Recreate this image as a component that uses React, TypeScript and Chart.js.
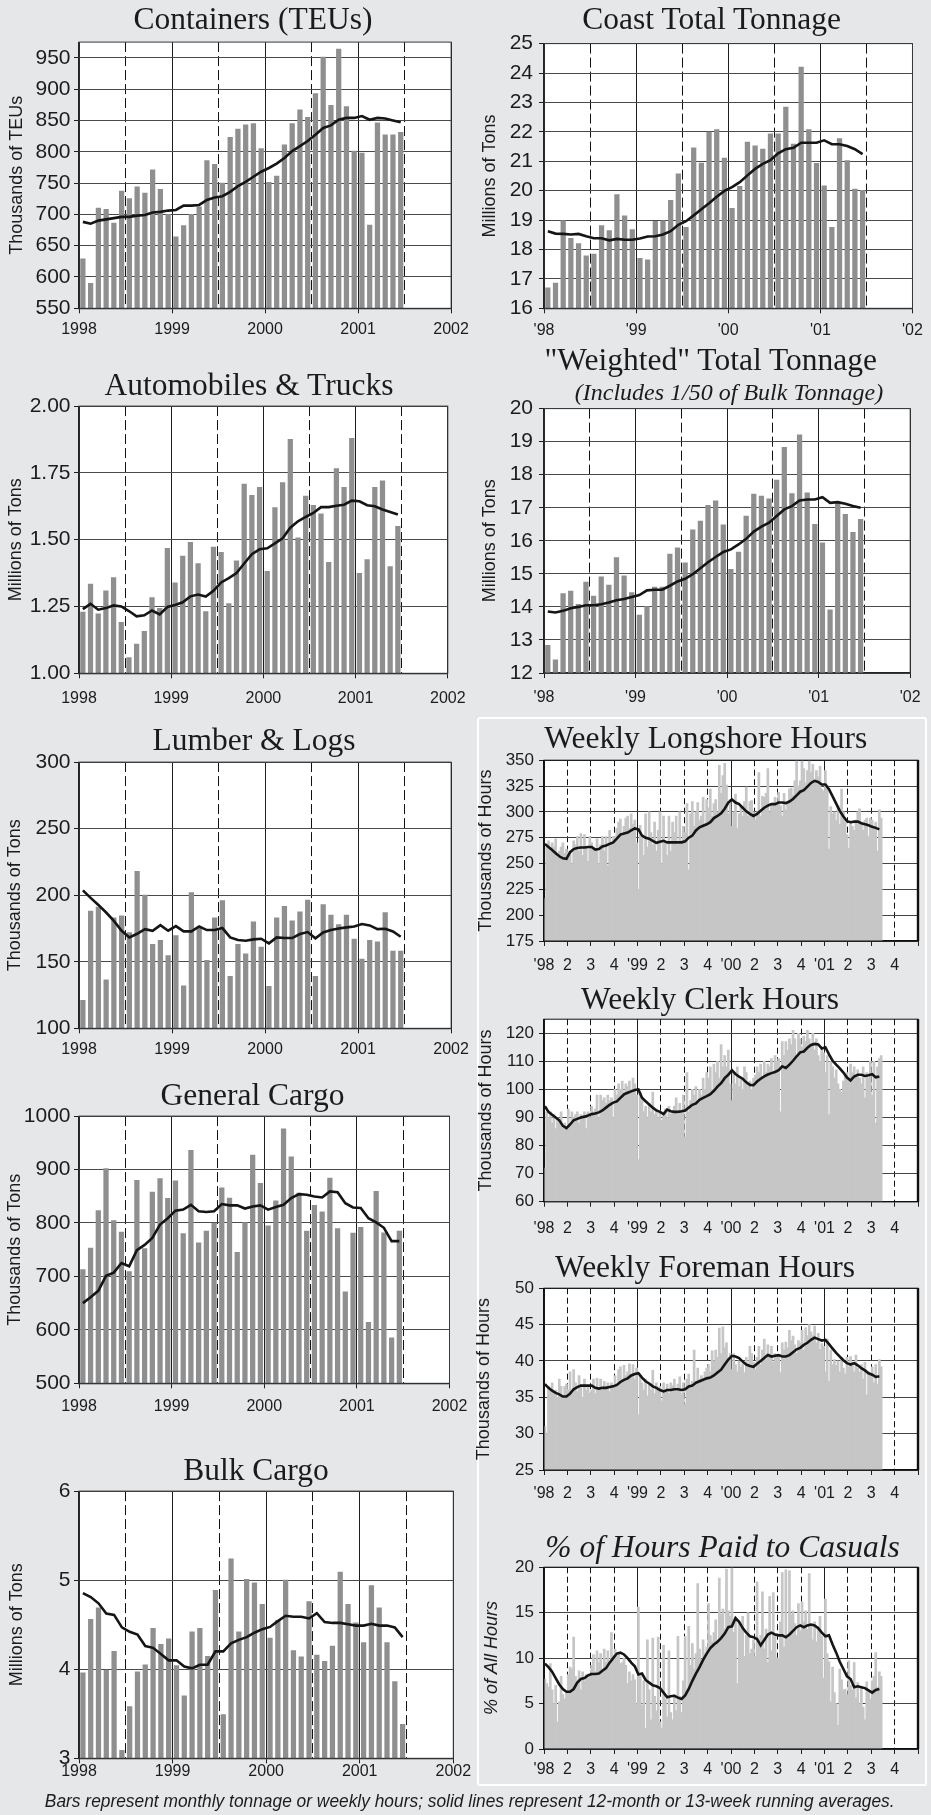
import React, { useEffect, useRef } from "react";
import { Chart, registerables } from "chart.js";

Chart.register(...registerables);
Chart.defaults.font.family = "'Liberation Sans', Arial, sans-serif";

// ---------------- monthly data (Jan 1998 - Jun 2001) ----------------
const containersBars = [629, 590, 710, 708, 686, 737, 725, 744, 734, 771, 740, 700, 664, 682, 700, 712, 786, 780, 750, 823, 836, 843, 845, 805, 751, 761, 811, 845, 867, 855, 893, 951, 874, 964, 872, 801, 798, 683, 846, 827, 827, 831];
const containersLine = [688, 685, 690, 692, 694, 696, 696, 698, 699, 703, 704, 706, 707, 714, 714, 715, 723, 727, 729, 736, 745, 752, 760, 768, 774, 781, 790, 801, 809, 817, 827, 838, 842, 851, 854, 854, 857, 851, 854, 853, 850, 847];

const coastBars = [16.7, 16.86, 18.98, 18.38, 18.2, 17.78, 17.84, 18.81, 18.64, 19.87, 19.14, 18.68, 17.7, 17.65, 18.96, 18.97, 19.67, 20.57, 18.75, 21.46, 20.94, 21.99, 22.08, 21.11, 19.4, 20.15, 21.65, 21.52, 21.41, 21.93, 21.93, 22.84, 21.58, 24.2, 22.08, 20.93, 20.16, 18.75, 21.77, 21.02, 20.05, 20.01];
const coastLine = [18.62, 18.54, 18.53, 18.51, 18.53, 18.45, 18.38, 18.38, 18.31, 18.36, 18.33, 18.33, 18.37, 18.44, 18.45, 18.51, 18.62, 18.84, 18.96, 19.16, 19.37, 19.57, 19.79, 19.99, 20.12, 20.29, 20.52, 20.74, 20.91, 21.04, 21.27, 21.41, 21.46, 21.63, 21.63, 21.63, 21.71, 21.58, 21.58, 21.52, 21.41, 21.24];

const autosBars = [1.229, 1.334, 1.223, 1.309, 1.358, 1.191, 1.059, 1.109, 1.157, 1.283, 1.243, 1.468, 1.339, 1.439, 1.49, 1.411, 1.231, 1.472, 1.453, 1.261, 1.421, 1.708, 1.666, 1.696, 1.382, 1.62, 1.714, 1.876, 1.507, 1.663, 1.629, 1.597, 1.415, 1.766, 1.696, 1.879, 1.374, 1.426, 1.696, 1.72, 1.399, 1.55];
const autosLine = [1.24, 1.26, 1.238, 1.244, 1.254, 1.25, 1.233, 1.213, 1.217, 1.235, 1.22, 1.248, 1.256, 1.266, 1.288, 1.295, 1.287, 1.309, 1.34, 1.356, 1.375, 1.411, 1.446, 1.464, 1.468, 1.486, 1.505, 1.545, 1.569, 1.585, 1.6, 1.622, 1.622, 1.627, 1.631, 1.646, 1.644, 1.629, 1.625, 1.613, 1.604, 1.594];

const weightedBars = [12.84, 12.4, 14.4, 14.48, 14.08, 14.75, 14.33, 14.91, 14.66, 15.49, 14.94, 14.43, 13.75, 14.01, 14.6, 14.6, 15.6, 15.79, 15.33, 16.33, 16.6, 17.07, 17.21, 16.48, 15.14, 15.66, 16.75, 17.41, 17.35, 17.27, 17.84, 18.83, 17.43, 19.21, 17.45, 16.5, 15.94, 13.91, 17.15, 16.8, 16.26, 16.65];
const weightedLine = [13.86, 13.83, 13.88, 13.96, 14.0, 14.05, 14.05, 14.08, 14.13, 14.2, 14.24, 14.3, 14.36, 14.5, 14.52, 14.52, 14.64, 14.77, 14.85, 14.99, 15.17, 15.35, 15.51, 15.66, 15.74, 15.89, 16.06, 16.28, 16.43, 16.55, 16.75, 16.95, 17.05, 17.22, 17.25, 17.25, 17.32, 17.15, 17.17, 17.12, 17.05, 17.0];

const lumberBars = [121, 188, 191, 136.5, 183, 184.5, 172, 218, 200, 163, 166, 154.7, 169.6, 132, 202, 176, 151, 183, 196, 139, 163, 156, 180, 161, 131.6, 183, 191.7, 180.7, 187.5, 196.4, 139, 193, 185, 178, 185, 167, 152, 166, 165, 187, 158, 158];
const lumberLine = [203.6, 198, 192.7, 187, 180.7, 173.3, 168.3, 171, 174.5, 173.3, 177.5, 173.3, 176.8, 172.8, 172.8, 176.5, 173.8, 173.8, 175.3, 168.3, 166.3, 165.8, 166.8, 167.3, 163.8, 168.3, 167.8, 167.8, 170.8, 172.3, 167.6, 172, 173.8, 175, 175.8, 176.5, 178.3, 177.3, 174.5, 174.8, 172.8, 168.8];

const generalBars = [713, 753, 823, 901.6, 804.5, 783, 709, 880, 752, 858, 883, 846, 879, 780, 936, 763, 785, 800, 866, 846.5, 745, 800.7, 927, 874, 794.6, 841.6, 976, 924, 856, 784.7, 833, 821, 884, 789.6, 671, 781, 792, 614, 859, 781.6, 585, 785];
const generalLine = [650, 661, 673, 701, 707, 725, 719, 749, 759, 772, 797, 809, 823, 825, 834, 822, 820.5, 822, 835.4, 833, 833, 827, 831, 833, 825, 830, 834, 846.5, 854, 852.7, 849.6, 847.8, 859, 857.7, 837, 829, 828, 809, 801, 791, 766, 766];

const bulkBars = [3.96, 4.56, 4.69, 3.99, 4.2, 3.09, 3.58, 3.97, 4.05, 4.46, 4.28, 4.34, 4.04, 3.7, 4.42, 4.46, 4.145, 4.885, 3.49, 5.24, 4.42, 5.01, 4.97, 4.73, 4.35, 4.55, 5.0, 4.21, 4.14, 4.76, 4.16, 4.09, 4.26, 5.09, 4.73, 4.52, 4.3, 4.94, 4.69, 4.3, 3.86, 3.38];
const bulkLine = [4.855, 4.81, 4.74, 4.625, 4.61, 4.47, 4.42, 4.39, 4.26, 4.24, 4.17, 4.1, 4.1, 4.03, 4.01, 4.05, 4.05, 4.2, 4.2, 4.29, 4.33, 4.36, 4.41, 4.45, 4.475, 4.54, 4.6, 4.59, 4.59, 4.57, 4.63, 4.53, 4.52, 4.52, 4.505, 4.49, 4.49, 4.51, 4.49, 4.49, 4.47, 4.36];

// ---------------- weekly data (188 weeks from Jan 1998) ----------------
const longshoreBars = [
  216, 268, 272, 262, 270, 266, 274, 256, 262, 266, 270, 260, 264,
  255, 262, 250, 272, 268, 276, 262, 279, 258, 278, 266, 252, 276,
  270, 266, 262, 274, 250, 268, 276, 262, 276, 248, 282, 270, 276,
  276, 284, 290, 293, 278, 286, 294, 296, 284, 298, 288, 292, 270,
  225, 287, 276, 258, 298, 266, 300, 280, 268, 290, 262, 282, 300,
  250, 296, 270, 258, 296, 262, 290, 280, 296, 268, 300, 272, 286,
  280, 308, 244, 298, 310, 286, 300, 309, 292, 296, 314, 288, 312,
  304, 322, 296, 308, 312, 300, 345, 318, 335, 347, 326, 298, 312,
  286, 300, 317, 284, 298, 305, 296, 310, 324, 296, 310, 311, 300,
  292, 300, 338, 296, 315, 314, 318, 342, 300, 308, 306, 314, 308,
  319, 306, 296, 318, 302, 310, 322, 323, 316, 330, 350, 325, 330,
  350, 342, 328, 340, 352, 338, 346, 330, 340, 334, 344, 322, 320,
  340, 326, 264, 305, 298, 300, 292, 306, 288, 322, 300, 290, 278,
  265, 290, 286, 282, 292, 300, 303, 290, 282, 292, 294, 276, 294,
  292, 286, 290, 262, 302, 294,
];
const longshoreLine = [269, 266, 263, 260, 257, 255, 254.5, 261, 264, 265, 265.5, 265.5, 266, 266, 263.5, 264, 266.5, 267.5, 269, 270.5, 274, 278, 279, 280, 282, 284, 283, 277, 275, 274, 272, 270, 271, 272, 270.5, 270.5, 270.5, 270.5, 270.5, 271.5, 275, 277, 282, 285, 286.5, 288, 290, 294, 296, 298.5, 303, 309, 312, 309, 307.5, 304, 300.5, 298, 296, 298, 301, 304, 306, 307.5, 307.5, 309, 309, 308.5, 310, 312.5, 316, 319.5, 321, 324.5, 328, 330, 329, 326.5, 326.5, 322, 315, 308, 301, 295.5, 291, 290, 290.5, 290.5, 289, 288, 287, 285.5, 284.5, 283];

const clerkBars = [
  72, 92, 90, 92, 88, 91, 86, 90, 88, 92, 86, 88, 86,
  93, 88, 92, 90, 91, 92, 88, 91, 90, 92, 86, 92, 90,
  94, 92, 93, 98, 90, 98, 96, 97, 95, 98, 96, 97, 90,
  100, 98, 102, 100, 103, 99, 102, 101, 103, 100, 104, 102, 98,
  75, 99, 96, 92, 94, 90, 95, 92, 99, 91, 93, 90, 92,
  89, 92, 93, 90, 94, 91, 92, 94, 97, 91, 95, 92, 98,
  83, 106, 92, 96, 100, 98, 101, 95, 100, 98, 104, 100, 106,
  104, 108, 100, 109, 106, 110, 104, 116, 108, 112, 108, 114, 102,
  96, 106, 102, 108, 101, 104, 100, 108, 106, 101, 103, 100, 104,
  105, 108, 106, 109, 104, 110, 106, 109, 108, 111, 106, 112, 110,
  111, 92, 117, 112, 117, 114, 118, 116, 121, 118, 112, 120, 118,
  115, 119, 117, 121, 118, 116, 120, 114, 118, 112, 110, 115, 113,
  106, 112, 91, 110, 108, 104, 107, 102, 100, 99, 103, 105, 106,
  104, 109, 106, 108, 105, 107, 104, 102, 108, 97, 106, 104, 110,
  98, 110, 88, 108, 111, 112,
];
const clerkLine = [94, 92, 91, 90, 89, 87, 86.2, 87.5, 89, 89.5, 90, 90.3, 90.7, 91.2, 91.4, 91.8, 92.5, 93.5, 94.5, 95.3, 95.7, 97, 98.2, 98.8, 99.3, 99.8, 100, 97, 95.8, 94.6, 93.5, 92.5, 92, 91.2, 92.8, 92.2, 92, 92, 92.2, 92.5, 93.5, 94.5, 95, 96.3, 97, 97.6, 98.3, 99.5, 101, 102.2, 104, 105.2, 106.8, 105.5, 104.5, 103.8, 102.5, 101.6, 101.5, 102.8, 103.8, 104.6, 105.3, 105.8, 106.2, 106.8, 108.2, 107.6, 108.8, 110.2, 111.8, 113.2, 113.5, 114.8, 115.8, 116.2, 116, 114.6, 115, 112.5, 110.2, 108.8, 107.5, 106, 104.2, 103.2, 104.6, 105.2, 105.2, 104.8, 105, 105.4, 104.3, 104.6];

const foremanBars = [
  31, 30, 36.5, 36, 37, 35.5, 36, 35, 37.5, 36.5, 35, 36.5, 36.8,
  36, 38.5, 35.5, 38.8, 37, 35.8, 38, 36.5, 35, 37.5, 36, 36.5, 35.5,
  36, 37.5, 35.5, 37.6, 36.2, 37.5, 36, 37.2, 36.5, 37, 35.8, 37, 36.5,
  38, 36.5, 38.8, 39.2, 37.5, 39.4, 38, 38.5, 39.6, 38, 39.5, 37.5, 39,
  32.6, 38, 37, 36, 37.5, 35.2, 36.8, 36, 38.7, 35.5, 37, 36.2, 36.5,
  34.5, 37, 36, 36.8, 35.5, 37, 36.6, 37.5, 35.8, 36.8, 37.8, 35.5, 37,
  34, 37.5, 38.2, 36.5, 37.2, 41.5, 37, 39, 37.5, 38, 37.2, 38.5, 39,
  39.5, 38.5, 41.4, 40, 41.5, 40.5, 44.5, 41, 44.7, 41.8, 42.5, 40, 41,
  38.8, 41, 39.5, 38.5, 40, 39.2, 39.6, 38.4, 40.5, 39.5, 42, 41, 39.8,
  38.8, 40.5, 42, 39.5, 41.5, 43, 40.2, 42.2, 41, 42, 39.8, 41, 40.5,
  40.8, 38.4, 42.5, 41.5, 42.6, 41.8, 44.2, 42.8, 43.4, 42.2, 41, 42.8, 42.5,
  44.2, 41.5, 44.6, 43.5, 45, 44, 43.5, 44.8, 42.5, 43.8, 41.6, 42.4, 42,
  38.5, 43, 37.2, 41.5, 39.5, 40.2, 39.4, 40, 38.5, 40.5, 39, 38.2, 40.5,
  39.2, 40.6, 39.8, 38.5, 40.8, 39, 38.5, 39.5, 37.5, 39.8, 35.3, 38.5, 38,
  39.2, 37, 39.5, 36.8, 40.2, 39.2,
];
const foremanLine = [36.8, 36.3, 35.9, 35.6, 35.4, 35.1, 35.1, 35.5, 36.1, 36.4, 36.6, 36.6, 36.6, 36.6, 36.3, 36.2, 36.3, 36.3, 36.4, 36.5, 36.7, 37.1, 37.4, 37.6, 38, 38.2, 38.3, 37.7, 37.2, 36.9, 36.5, 36.3, 36, 35.8, 36, 36, 36.1, 36.1, 36, 36.1, 36.5, 36.6, 37, 37.2, 37.4, 37.6, 37.7, 38, 38.4, 38.8, 39.5, 40.2, 40.7, 40.6, 40.4, 39.9, 39.5, 39.3, 39.2, 39.6, 40, 40.4, 40.8, 40.6, 40.7, 40.8, 40.6, 40.6, 40.8, 41.2, 41.6, 41.8, 42.2, 42.5, 42.9, 43.2, 43, 42.8, 42.9, 42.3, 41.7, 41.1, 40.6, 40.1, 39.7, 39.5, 39.7, 39.4, 39, 38.7, 38.3, 38.1, 37.8, 37.9];

const casualsBars = [
  7.7, 7.2, 6.8, 9.4, 6.5, 5, 7, 3, 5.2, 8, 6, 5.5, 6.2,
  8.2, 9, 8.8, 12.3, 8, 7.2, 8.6, 6.5, 8.5, 7.5, 8.2, 7.8, 8.2,
  9.2, 10.4, 8.5, 10.8, 9.5, 10.5, 8.8, 11, 9.5, 10.8, 9.5, 12.8, 10.3,
  11, 10.2, 10.5, 9.4, 9.5, 10, 9.2, 7.2, 8.5, 7.5, 8.2, 7.6, 5,
  15.6, 8, 4.8, 7.5, 2.3, 12, 6.5, 3.2, 12.2, 5.8, 4.2, 12.3, 3,
  2.3, 11.4, 5.5, 3.5, 10.8, 4, 3.2, 6, 4.2, 12.4, 5.8, 4, 7.5,
  12.4, 6.5, 13.5, 9.2, 11.6, 8.8, 10.5, 18.2, 11, 9.8, 12, 10.5, 11.2,
  16, 12.5, 11.8, 12.8, 14.2, 11.8, 18.8, 14.8, 15.4, 13.2, 19.8, 15.2, 14.6,
  20, 12.8, 14.5, 7.2, 14, 13.2, 14.6, 10.2, 12.5, 15, 10.5, 11, 12,
  10.2, 18.4, 11.5, 12.5, 17.3, 11, 13.2, 9.5, 16.8, 10.8, 17.2, 12.5, 10,
  10, 14, 19.4, 11.2, 19.7, 12.2, 19.6, 14.8, 15.2, 13.8, 12.5, 16, 13,
  16.2, 14, 15.2, 13.2, 19.3, 13.5, 12, 14, 11.8, 13.5, 14.6, 12.4, 7.8,
  16.5, 10.5, 9.6, 5.2, 9, 6.2, 5, 2.6, 8.8, 7.6, 6.5, 6.6, 6,
  9.7, 7, 6.5, 9.5, 5.6, 7.3, 5, 6.8, 4.6, 3.2, 7.4, 6.5, 5.5,
  7.5, 8, 10.6, 6.8, 8.5, 8,
];
const casualsLine = [9.4, 9, 8.5, 7.8, 7.1, 6.6, 6.3, 6.3, 6.6, 7.3, 7.7, 7.8, 8.1, 8.25, 8.25, 8.3, 8.6, 8.9, 9.5, 10, 10.5, 10.6, 10.4, 10, 9.5, 9.1, 8.2, 8.3, 7.6, 7.3, 7, 6.9, 6.7, 6.2, 5.7, 5.8, 5.85, 5.65, 5.5, 5.9, 6.6, 7.5, 8.3, 9, 9.8, 10.5, 11.1, 11.5, 11.8, 12.2, 12.7, 13.4, 13.5, 14.4, 14, 13.3, 12.8, 12.4, 12.3, 12.1, 11.4, 12, 12.6, 12.8, 12.6, 12.5, 12.5, 12.3, 12.6, 13, 13.4, 13.6, 13.4, 13.6, 13.7, 13.6, 13.3, 12.8, 12.4, 12.5, 11.5, 10.6, 9.6, 8.8, 8, 7.7, 6.8, 6.9, 6.8, 6.7, 6.45, 6.2, 6.5, 6.6];

// ---------------- tick labels / tick values ----------------
const YEAR_LABELS = ["1998", "1999", "2000", "2001", "2002"];
const SHORT_YEAR_LABELS = ["'98", "'99", "'00", "'01", "'02"];
const QUARTER_LABELS = ["'98", "2", "3", "4", "'99", "2", "3", "4", "'00", "2", "3", "4", "'01", "2", "3", "4", ""];

const MONTH_YEAR_TICKS = [0, 12, 24, 36, 48];
const MONTH_MID_TICKS = [6, 18, 30, 42];
const QUARTER_TICKS = [0, 1, 2, 3, 4, 5, 6, 7, 8, 9, 10, 11, 12, 13, 14, 15, 16];
const QUARTER_YEAR_TICKS = [0, 4, 8, 12, 16];
const QUARTER_MID_TICKS = [1, 2, 3, 5, 6, 7, 9, 10, 11, 13, 14, 15];

const CONTAINERS_TICKS = [550, 600, 650, 700, 750, 800, 850, 900, 950];
const COAST_TICKS = [16, 17, 18, 19, 20, 21, 22, 23, 24, 25];
const AUTOS_TICKS = [1, 1.25, 1.5, 1.75, 2];
const WEIGHTED_TICKS = [12, 13, 14, 15, 16, 17, 18, 19, 20];
const LUMBER_TICKS = [100, 150, 200, 250, 300];
const GENERAL_TICKS = [500, 600, 700, 800, 900, 1000];
const BULK_TICKS = [3, 4, 5, 6];
const LONGSHORE_TICKS = [175, 200, 225, 250, 275, 300, 325, 350];
const CLERK_TICKS = [60, 70, 80, 90, 100, 110, 120];
const FOREMAN_TICKS = [25, 30, 35, 40, 45, 50];
const CASUALS_TICKS = [0, 5, 10, 15, 20];

// ---------------- layout ----------------
const COLS: any = {
  left: { canvasLeft: 0, canvasRight: 476, plotLeft: 79, plotRight: 453.3, yFont: 21, yPad: 3.5 },
  right: { canvasLeft: 477, canvasRight: 931, plotLeft: 544, plotRight: 918, yFont: 21, yPad: 6 },
  weekly: { canvasLeft: 472, canvasRight: 931, plotLeft: 544, plotRight: 918, yFont: 17, yPad: 5 },
};
const PAD_TOP = 14;
const X_AXIS_H = 40;
const TITLE_SIZE = 31.5;

const PANELS: any[] = [
  { id: "containers", col: "left", title: "Containers (TEUs)", titleX: 253, titleY: 19, plotTop: 40, plotBottom: 308.3, yMin: 550, yMax: 975, yTicks: CONTAINERS_TICKS, yDigits: 0, yTitle: "Thousands of TEUs", yTitleX: 16.7, xLabels: YEAR_LABELS, xLabelOffset: 21.7, bars: containersBars, line: containersLine },
  { id: "coast", col: "right", title: "Coast Total Tonnage", titleX: 711.7, titleY: 19, plotTop: 39.3, plotBottom: 308.3, yMin: 16, yMax: 25, yTicks: COAST_TICKS, yDigits: 0, yTitle: "Millions of Tons", yTitleX: 490, xLabels: SHORT_YEAR_LABELS, xLabelOffset: 22.7, bars: coastBars, line: coastLine },
  { id: "autos", col: "left", title: "Automobiles & Trucks", titleX: 249, titleY: 385, plotTop: 404, plotBottom: 673.3, yMin: 1, yMax: 2, yTicks: AUTOS_TICKS, yDigits: 2, yTitle: "Millions of Tons", yTitleX: 16, xLabels: YEAR_LABELS, xLabelOffset: 25, bars: autosBars, line: autosLine },
  { id: "weighted", col: "right", title: "\"Weighted\" Total Tonnage", titleX: 710.7, titleY: 359.7, subtitle: "(Includes 1/50 of Bulk Tonnage)", subX: 729, subY: 392.3, plotTop: 404, plotBottom: 673, yMin: 12, yMax: 20, yTicks: WEIGHTED_TICKS, yDigits: 0, yTitle: "Millions of Tons", yTitleX: 490, xLabels: SHORT_YEAR_LABELS, xLabelOffset: 25, bars: weightedBars, line: weightedLine },
  { id: "lumber", col: "left", title: "Lumber & Logs", titleX: 254, titleY: 739.7, plotTop: 760, plotBottom: 1028.3, yMin: 100, yMax: 300, yTicks: LUMBER_TICKS, yDigits: 0, yTitle: "Thousands of Tons", yTitleX: 15, xLabels: YEAR_LABELS, xLabelOffset: 21.7, bars: lumberBars, line: lumberLine },
  { id: "general", col: "left", title: "General Cargo", titleX: 252.5, titleY: 1094.5, plotTop: 1114, plotBottom: 1383.3, yMin: 500, yMax: 1000, yTicks: GENERAL_TICKS, yDigits: 0, yTitle: "Thousands of Tons", yTitleX: 15, xLabels: YEAR_LABELS, xLabelOffset: 23.3, bars: generalBars, line: generalLine },
  { id: "bulk", col: "left", title: "Bulk Cargo", titleX: 256, titleY: 1469.7, plotTop: 1489.3, plotBottom: 1758.3, yMin: 3, yMax: 6, yTicks: BULK_TICKS, yDigits: 0, yTitle: "Millions of Tons", yTitleX: 17.3, xLabels: YEAR_LABELS, xLabelOffset: 13.4, bars: bulkBars, line: bulkLine },
  { id: "longshore", col: "weekly", title: "Weekly Longshore Hours", titleX: 705.8, titleY: 738.3, plotTop: 759.3, plotBottom: 941, yMin: 175, yMax: 350, yTicks: LONGSHORE_TICKS, yDigits: 0, yTitle: "Thousands of Hours", yTitleX: 485.7, xLabels: QUARTER_LABELS, xLabelOffset: 24.7, bars: longshoreBars, line: longshoreLine },
  { id: "clerk", col: "weekly", title: "Weekly Clerk Hours", titleX: 710, titleY: 999.2, plotTop: 1018.3, plotBottom: 1201.7, yMin: 60, yMax: 125, yTicks: CLERK_TICKS, yDigits: 0, yTitle: "Thousands of Hours", yTitleX: 485.7, xLabels: QUARTER_LABELS, xLabelOffset: 27.3, bars: clerkBars, line: clerkLine },
  { id: "foreman", col: "weekly", title: "Weekly Foreman Hours", titleX: 705, titleY: 1266.7, plotTop: 1287.3, plotBottom: 1470, yMin: 25, yMax: 50, yTicks: FOREMAN_TICKS, yDigits: 0, yTitle: "Thousands of Hours", yTitleX: 484.3, xLabels: QUARTER_LABELS, xLabelOffset: 24, bars: foremanBars, line: foremanLine },
  { id: "casuals", col: "weekly", title: "% of Hours Paid to Casuals", titleItalic: true, titleX: 722.5, titleY: 1546.7, plotTop: 1566, plotBottom: 1749, yMin: 0, yMax: 20, yTicks: CASUALS_TICKS, yDigits: 0, yTitle: "% of All Hours", yTitleItalic: true, yTitleX: 491.7, xLabels: QUARTER_LABELS, xLabelOffset: 21, bars: casualsBars, line: casualsLine },
];

const plotBgPlugin = {
  id: "plotBg",
  beforeDraw(chart: any) {
    const { ctx, chartArea: a } = chart;
    ctx.save();
    ctx.fillStyle = "#ffffff";
    ctx.fillRect(a.left, a.top, a.right - a.left, a.bottom - a.top);
    ctx.restore();
  },
};

const plotFramePlugin = {
  id: "plotFrame",
  afterDraw(chart: any, _args: any, opts: any) {
    const { ctx, chartArea: a } = chart;
    ctx.save();
    ctx.strokeStyle = opts.color;
    ctx.lineWidth = opts.width;
    ctx.strokeRect(a.left, a.top, a.right - a.left, a.bottom - a.top);
    if (opts.rightWidth) {
      ctx.lineWidth = opts.rightWidth;
      ctx.beginPath();
      ctx.moveTo(a.right, a.top);
      ctx.lineTo(a.right, a.bottom);
      ctx.stroke();
    }
    ctx.restore();
  },
};

function geometry(spec: any) {
  const col = COLS[spec.col];
  const top = Math.round(spec.plotTop - PAD_TOP);
  const padTop = spec.plotTop - top;
  const height = Math.ceil(spec.plotBottom - top + X_AXIS_H);
  const xAxisH = height - (spec.plotBottom - top);
  const width = col.canvasRight - col.canvasLeft;
  return { col, top, padTop, height, xAxisH, width, left: col.canvasLeft };
}

function buildConfig(spec: any) {
  const g = geometry(spec);
  const col = g.col;
  const weekly = spec.col === "weekly";
  const xMax = weekly ? 16 : 48;
  const barX = (i: number) => (weekly ? (i + 0.5) / 13 : i + 0.5);
  const lineX = (i: number) => (weekly ? (i * 2 + 0.5) / 13 : i + 0.5);
  const xTicks = weekly ? QUARTER_TICKS : MONTH_YEAR_TICKS;
  const xSolid = weekly ? QUARTER_YEAR_TICKS : MONTH_YEAR_TICKS;
  const xDash = weekly ? QUARTER_MID_TICKS : MONTH_MID_TICKS;
  const plotW = col.plotRight - col.plotLeft;
  const barThickness = weekly ? plotW / (16 * 13) + 0.25 : 4.6;

  return {
    type: "bar",
    data: {
      datasets: [
        {
          type: "line",
          data: spec.line.map((v: number, i: number) => ({ x: lineX(i), y: v })),
          borderColor: "#151515",
          borderWidth: 2.6,
          pointRadius: 0,
          tension: 0,
          order: 0,
          clip: 0,
          xAxisID: "x",
          yAxisID: "y",
        },
        {
          type: "bar",
          data: spec.bars.map((v: number, i: number) => ({ x: barX(i), y: v })),
          backgroundColor: weekly ? "#c6c6c6" : "#8f8f8f",
          borderWidth: 0,
          barThickness,
          order: 1,
          clip: 0,
          xAxisID: "x",
          yAxisID: "y",
        },
      ],
    },
    options: {
      responsive: false,
      animation: false,
      devicePixelRatio: 1,
      events: [],
      layout: { padding: { left: 0, top: g.padTop, right: col.canvasRight - col.plotRight, bottom: 0 } },
      plugins: {
        legend: { display: false },
        tooltip: { enabled: false },
        title: { display: false },
        plotFrame: { color: weekly ? "#111" : "#3a3a3a", width: 1, rightWidth: weekly ? 2.4 : 0 },
      },
      scales: {
        x: {
          type: "linear",
          position: "bottom",
          min: 0,
          max: xMax,
          offset: false,
          afterBuildTicks: (s: any) => {
            s.ticks = xTicks.map((v) => ({ value: v }));
          },
          afterFit: (s: any) => {
            s.height = g.xAxisH;
          },
          ticks: {
            autoSkip: false,
            maxRotation: 0,
            minRotation: 0,
            padding: spec.xLabelOffset - 5 - 9.6,
            color: "#1c1c1c",
            font: { size: 16 },
            callback: (_v: any, i: number) => spec.xLabels[i] ?? "",
          },
          grid: {
            offset: false,
            color: (ctx: any) => (ctx.tick && xSolid.includes(ctx.tick.value) ? "#1e1e1e" : "rgba(0,0,0,0)"),
            lineWidth: 1,
            drawTicks: true,
            tickLength: 5,
            tickColor: "#1e1e1e",
            tickWidth: 1,
          },
          border: { display: true, color: "#111", width: 1.2 },
        },
        xd: {
          type: "linear",
          position: "bottom",
          min: 0,
          max: xMax,
          offset: false,
          afterBuildTicks: (s: any) => {
            s.ticks = xDash.map((v) => ({ value: v }));
          },
          afterFit: (s: any) => {
            s.height = 0;
          },
          ticks: { display: false },
          grid: { offset: false, color: "#111", lineWidth: 1, drawTicks: false },
          border: { display: false, dash: weekly ? [6, 3.5] : [10, 4] },
        },
        y: {
          type: "linear",
          position: "left",
          min: spec.yMin,
          max: spec.yMax,
          afterBuildTicks: (s: any) => {
            s.ticks = spec.yTicks.map((v: number) => ({ value: v }));
          },
          afterFit: (s: any) => {
            s.width = col.plotLeft - col.canvasLeft;
          },
          ticks: {
            padding: col.yPad,
            color: "#1c1c1c",
            font: { size: col.yFont },
            callback: (v: any) => Number(v).toFixed(spec.yDigits),
          },
          grid: { color: weekly ? "#444" : "#4a4a4a", lineWidth: 1, tickLength: 5, tickColor: "#1e1e1e" },
          border: { display: true, color: "#111", width: 1.2 },
          title: {
            display: true,
            text: spec.yTitle,
            color: "#1c1c1c",
            font: { size: 18, style: spec.yTitleItalic ? "italic" : "normal" },
            padding: { top: spec.yTitleX - col.canvasLeft - 10.8, bottom: 0 },
          },
        },
      },
    },
    plugins: [plotBgPlugin, plotFramePlugin],
  };
}

function ChartPanel({ spec }: { spec: any }) {
  const ref = useRef<HTMLCanvasElement | null>(null);
  const g = geometry(spec);
  useEffect(() => {
    if (!ref.current) return;
    const chart = new Chart(ref.current, buildConfig(spec) as any);
    return () => chart.destroy();
  }, []);
  const serif = "'Liberation Serif', 'Times New Roman', serif";
  return (
    <>
      <canvas
        ref={ref}
        width={g.width}
        height={g.height}
        style={{ position: "absolute", left: g.left, top: g.top, width: g.width, height: g.height }}
      />
      <div
        style={{
          position: "absolute",
          left: spec.titleX - 300,
          width: 600,
          top: spec.titleY - 0.5065 * TITLE_SIZE,
          fontFamily: serif,
          fontSize: TITLE_SIZE,
          lineHeight: `${TITLE_SIZE}px`,
          fontStyle: spec.titleItalic ? "italic" : "normal",
          textAlign: "center",
          color: "#1b1b1b",
          whiteSpace: "nowrap",
        }}
      >
        {spec.title}
      </div>
      {spec.subtitle ? (
        <div
          style={{
            position: "absolute",
            left: spec.subX - 300,
            width: 600,
            top: spec.subY - 0.5065 * 24,
            fontFamily: serif,
            fontSize: 24,
            lineHeight: "24px",
            fontStyle: "italic",
            textAlign: "center",
            color: "#1b1b1b",
            whiteSpace: "nowrap",
          }}
        >
          {spec.subtitle}
        </div>
      ) : null}
    </>
  );
}

export default function App() {
  return (
    <div style={{ position: "absolute", left: 0, top: 0, width: 931, height: 1815, background: "#e6e7e9", overflow: "hidden" }}>
      <div
        style={{
          position: "absolute",
          left: 477,
          top: 717,
          width: 450,
          height: 1069,
          border: "2px solid #ffffff",
          boxSizing: "border-box",
          borderRadius: 3,
        }}
      />
      {PANELS.map((p) => (
        <ChartPanel key={p.id} spec={p} />
      ))}
      <div
        style={{
          position: "absolute",
          left: 470 - 500,
          width: 1000,
          top: 1800.7 - 0.4885 * 18,
          textAlign: "center",
          whiteSpace: "nowrap",
          fontFamily: "'Liberation Sans', Arial, sans-serif",
          fontStyle: "italic",
          fontSize: 18,
          lineHeight: "18px",
          color: "#1c1c1c",
        }}
      >
        <span style={{ display: "inline-block", transform: "scaleX(0.964)" }}>
          Bars represent monthly tonnage or weekly hours; solid lines represent 12-month or 13-week running averages.
        </span>
      </div>
    </div>
  );
}
